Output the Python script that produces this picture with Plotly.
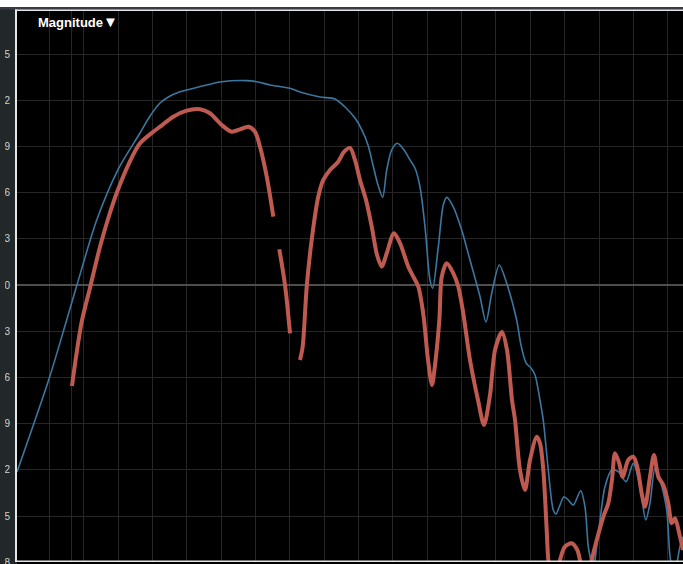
import plotly.graph_objects as go

# Frequency axis in octaves above 20 Hz, magnitude in dB
blue_oct = [-0.470, 0.000, 0.253, 0.399, 0.690, 1.004, 1.320, 1.466, 1.611, 1.757,
            1.873, 1.999, 2.509,
            2.872, 3.018, 3.212, 3.503, 3.648, 3.939, 4.157, 4.303, 4.448, 4.550,
            4.638, 4.710, 4.783, 4.851, 4.910, 4.983, 5.064, 5.162, 5.249, 5.321,
            5.394, 5.467, 5.540, 5.579, 5.661, 5.733, 5.783, 5.879, 6.001, 6.122,
            6.268, 6.355, 6.438, 6.548, 6.656, 6.801, 6.864, 6.937, 7.009, 7.068,
            7.140, 7.188, 7.261, 7.334, 7.373, 7.421, 7.490, 7.552, 7.625, 7.733,
            7.795, 7.843, 7.878, 7.909, 7.941, 8.014, 8.086, 8.184, 8.280, 8.392,
            8.498, 8.596, 8.679, 8.741, 8.814, 8.886, 8.984, 9.040, 9.100, 9.177,
            9.221]
blue_db = [-12.14, -6.04, -2.27, -0.05, 4.22, 7.53, 9.87, 10.97, 11.82, 12.27,
           12.50, 12.66, 13.20,
           13.27, 13.20, 12.99, 12.77, 12.53, 12.21, 12.08, 11.56, 10.84, 10.06,
           9.09, 7.79, 6.49, 5.69, 7.47, 8.77, 9.20, 8.77, 8.12, 7.60,
           6.38, 3.79, 0.32, -0.21, 2.49, 5.19, 5.69, 5.08, 3.57, 1.62,
           -0.76, -2.40, -0.54, 1.30, 0.11, -2.27, -3.90, -5.06, -5.39, -5.84,
           -7.47, -8.77, -12.01, -14.61, -14.87, -14.40, -13.75, -13.96, -14.29, -13.36,
           -14.40, -16.99, -17.86, -18.83, -17.86, -15.26, -13.10, -12.01, -12.12, -12.77,
           -11.58, -13.10, -15.26, -14.18, -11.90, -12.66, -14.61, -17.86, -18.64, -16.99,
           -16.34]

# None entries break the trace into separate segments
red_oct = [0.330, 0.389, 0.471, 0.592, 0.738, 0.859, 0.986, 1.175, 1.320, 1.513,
           1.611, 1.804, 1.999, 2.193, 2.338, 2.509, 2.654, 2.775, 2.896, 2.993,
           3.066, 3.164, 3.260, None,
           3.347, 3.430, 3.503, None,
           3.648, 3.687, 3.746, 3.818, 3.914, 3.987, 4.085, 4.202, 4.288, 4.376,
           4.448, 4.521, 4.609, 4.696, 4.769, 4.837, 4.910, 5.016, 5.104, 5.224,
           5.297, 5.370, 5.419, 5.453, 5.511, 5.569, 5.613, 5.676, 5.711, 5.783,
           5.879, 5.952, 6.024, 6.122, 6.238, 6.326, 6.413, 6.486, 6.587, 6.660,
           6.733, 6.777, 6.849, 6.922, 6.995, 7.093, 7.141, 7.189, 7.238, 7.262,
           7.316, 7.373, 7.432, 7.504, 7.602, 7.683, 7.722, 7.795, 7.893, 7.966,
           8.062, 8.134, 8.188, 8.232, 8.294, 8.344, 8.425, 8.498, 8.556, 8.620,
           8.668, 8.741, 8.799, 8.862, 8.935, 9.008, 9.057, 9.105, 9.177, 9.221]
red_db = [-6.56, -4.68, -2.40, -0.19, 2.49, 4.35, 6.04, 8.05, 9.20, 9.95,
          10.28, 10.93, 11.32, 11.41, 11.15, 10.39, 9.95, 10.11, 10.28, 9.95,
          8.98, 7.03, 4.44, None,
          2.32, 0.00, -3.14, None,
          -4.87, -4.01, -0.11, 2.92, 5.73, 6.82, 7.47, 7.99, 8.64, 8.90,
          8.12, 6.82, 5.52, 3.70, 1.95, 1.19, 2.06, 3.36, 2.71, 1.19,
          0.54, -0.11, -1.19, -2.27, -4.87, -6.49, -5.19, -2.27, 0.54, 1.41,
          0.76, -0.11, -1.84, -4.87, -7.47, -9.09, -7.14, -4.22, -3.05, -4.22,
          -7.47, -8.77, -12.01, -13.31, -11.36, -9.85, -10.28, -12.01, -15.91, -17.86,
          -19.48, -19.48, -17.86, -16.99, -16.77, -17.21, -17.86, -19.81, -17.86, -16.56,
          -15.05, -14.18, -12.66, -10.93, -11.58, -12.45, -11.36, -11.15, -11.80, -13.53,
          -14.40, -12.45, -11.04, -12.45, -12.99, -14.18, -15.47, -15.15, -16.34, -17.21]

y_ticks = [15, 12, 9, 6, 3, 0, -3, -6, -9, -12, -15, -18]
y_tick_text = [str(v) for v in y_ticks]
grid_oct = [0.0, 0.326, 0.5, 1.0, 1.5, 2.0, 2.5, 3.0, 3.5, 4.0, 4.5, 5.0,
            5.5, 6.0, 6.5, 7.0, 7.5, 8.0, 8.5, 9.0]

W, H = 683, 564
ML, MT, MR, MB = 17, 11, 0, 0
PW, PH = W - ML - MR, H - MT - MB


def xp(px):
    return (px - ML) / PW


def yp(py):
    return 1 - (py - MT) / PH


STRIP = "#22272a"

fig = go.Figure()
fig.add_trace(go.Scatter(
    x=blue_oct, y=blue_db, mode="lines",
    line=dict(color="#3b77a0", width=1.6, shape="spline", smoothing=0.8),
    hoverinfo="skip", showlegend=False))
fig.add_trace(go.Scatter(
    x=red_oct, y=red_db, mode="lines", connectgaps=False,
    line=dict(color="#bf5a50", width=4, shape="spline", smoothing=0.8),
    hoverinfo="skip", showlegend=False))


def rect(x0, x1, y0, y1, color):
    return dict(type="rect", xref="paper", yref="paper",
                x0=xp(x0), x1=xp(x1), y0=yp(y1), y1=yp(y0),
                fillcolor=color, line=dict(width=0), layer="above")


shapes = [
    rect(0, W, 0, 7, "#ffffff"),
    rect(0, W, 7, 9.5, "#383e43"),
    rect(15, W, 9.5, 11, "#e4e6e8"),
    rect(15, 17, 9.5, 562, "#e4e6e8"),
    rect(17, W, 562, H, "#000000"),
    rect(15, W, 560.5, 562, "#e4e6e8"),
    rect(0, 5, 11, H, STRIP),
]

fig.update_layout(
    width=W, height=H,
    margin=dict(l=ML, r=MR, t=MT, b=MB, pad=0, autoexpand=False),
    paper_bgcolor=STRIP, plot_bgcolor="#000000",
    shapes=shapes,
    xaxis=dict(range=[(17 - 49.3) / 68.72, (683 - 49.3) / 68.72],
               tickvals=grid_oct, showticklabels=False, ticks="",
               automargin=False,
               showgrid=True, gridcolor="#262626", gridwidth=1,
               zeroline=False, showline=False, fixedrange=True),
    yaxis=dict(range=[(285 - 564) / 15.4, (285 - 11) / 15.4],
               tickvals=y_ticks, ticktext=y_tick_text, ticks="",
               automargin=False,
               tickfont=dict(family="Liberation Sans, Arial", size=10, color="#cfd2d4"),
               ticklabelstandoff=6, ticklabeloverflow="allow",
               showgrid=True, gridcolor="#262626", gridwidth=1,
               zeroline=True, zerolinecolor="#4e4e4e", zerolinewidth=1.5,
               showline=False, fixedrange=True),
    annotations=[dict(
        text="<b>Magnitude</b><span style='font-size:15px'>▼</span>",
        xref="paper", yref="paper",
        x=xp(35.5), y=yp(21.5), xanchor="left", yanchor="middle",
        showarrow=False,
        font=dict(family="Liberation Sans, Arial", size=13, color="#ffffff"))],
)

fig.write_html("out.html", config={"displayModeBar": False})
